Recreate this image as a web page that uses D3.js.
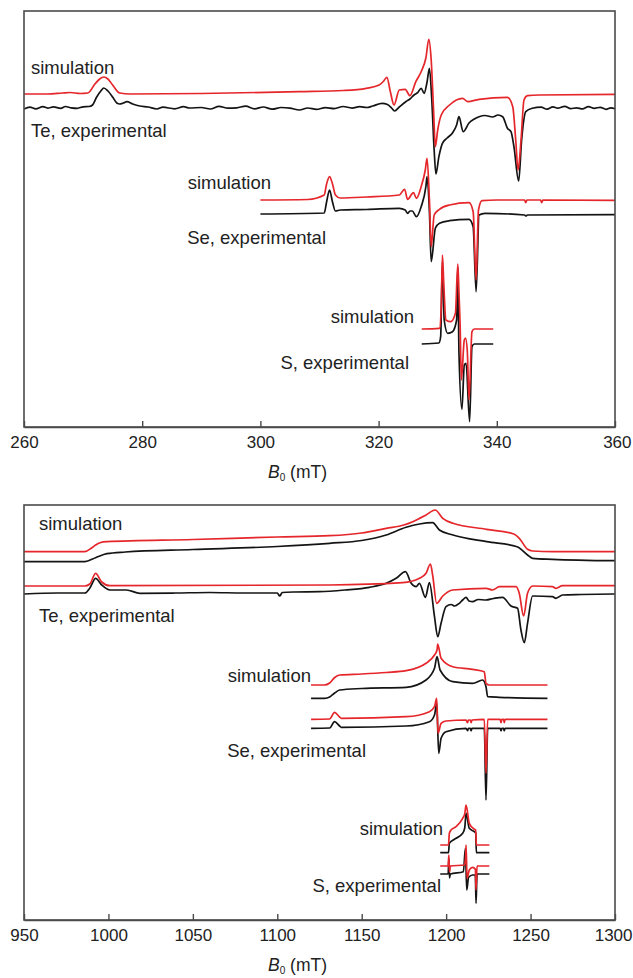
<!DOCTYPE html>
<html>
<head>
<meta charset="utf-8">
<script src="https://cdn.jsdelivr.net/npm/d3@7"></script>
<style>
  body { margin: 0; background: #fff; }
  svg text { font-family: "Liberation Sans", Arial, sans-serif; fill: #222; }
</style>
</head>
<body>
<script>
// ---- data: [B0 (mT), intensity (a.u., stacked)] ----

// upper panel, derivative spectra, 260-360 mT
var teSimTop = [[260,333],[264,333],[266.5,334],[267.8,334.5],[269.5,333.5],[270.8,334],[272,343],[272.8,348],[273.5,350],[274.2,348],[275,342],[276.2,334],[278,333],[290,333.5],[306.6,335.3],[314,336.5],[317.9,338.7],[320.1,342],[320.8,345.5],[321.4,349.7],[322.0,335],[322.6,322],[323.5,337],[324.5,337.7],[325.3,331.3],[326.3,345.3],[327.2,355.3],[328.0,369],[328.5,387.7],[328.9,367],[329.3,317],[329.6,280.3],[330.0,297],[330.6,312],[332.0,322],[334.2,328.7],[335.1,325.3],[337.0,327.7],[341.8,329.7],[342.7,320.3],[343.2,287],[343.6,257],[344.1,287],[344.6,327],[345.2,331.3],[347.2,332],[360,332.7]];
var teExpTop = [[260,318],[261,319.8],[262,318.2],[263.2,320.4],[264,318.9],[265,320.1],[266.2,318.6],[267,320.5],[268,319.2],[269,318.7],[270,320.2],[271,320.5],[271.6,322],[272.3,330],[273,336],[273.5,339],[274.2,336],[275,330],[275.7,324],[276.2,323],[276.8,324],[277.4,325.3],[278.4,323],[279.6,321],[281,320],[282.5,318],[283.5,319.8],[285.5,318.2],[287,320.3],[288,319],[290,319.5],[291.5,318],[293,320.6],[294.5,318.8],[296,319.2],[297.5,320.8],[299,318.2],[300.5,320],[302,317.8],[303.5,319.5],[305,318.9],[306.6,317],[308,319],[309.5,317.6],[311,319.4],[312.5,318.4],[314,320.5],[315.5,318.9],[316.8,320.3],[318,319.5],[319,321],[320.6,323.7],[321.5,322.5],[322.2,319],[322.7,316],[323.5,320],[324.6,325.3],[325.3,328],[326.0,332],[326.6,334.3],[327.2,338.7],[327.7,333.7],[328.2,345],[328.6,358.7],[329.0,327],[329.4,277],[329.7,253],[330.2,270.3],[330.8,283.7],[331.6,289],[332.5,294],[333.2,302],[333.6,310.3],[334.3,295.3],[335.3,304],[336.2,308],[337.0,310.3],[338,311.5],[339.3,310],[340.2,312],[341.0,310.3],[341.8,298.7],[342.4,295.3],[342.9,280.3],[343.7,246],[344.2,287],[344.9,315.3],[346.0,318.7],[347.5,319.8],[348.5,317.9],[349.5,320.2],[350.3,318.8],[351.5,320.6],[352.5,318.3],[353.5,319.2],[354.5,318.1],[355.5,320.3],[356.5,318.7],[357.5,319.7],[358.5,317.6],[359.3,319.2],[360,318.2]];
var seSimTop = [[300,227],[308,227.5],[310.8,232],[311.2,243],[311.7,250.3],[312.2,243],[312.7,232],[313.5,229],[318,230],[323.5,232],[324.4,237.7],[324.9,227.7],[325.9,234.3],[326.4,228.7],[327.2,240.3],[327.9,257],[328.2,268.7],[328.6,227],[328.9,180.3],[329.4,212],[330.3,217.7],[332.0,222],[335.3,224.3],[336.0,215.3],[336.5,147],[336.9,217],[337.5,226.3],[340,227],[344.7,227],[344.9,224.3],[345.1,227],[347.4,227],[347.6,224.3],[347.8,227],[360,226.7]];
var seExpTop = [[300,213],[310.8,214],[311.2,225],[311.7,237],[312.2,225],[312.7,216],[313.5,217],[318,217.5],[323.5,218.7],[324.5,217],[324.9,213.7],[325.3,216],[325.7,216],[326.4,210.3],[327.2,220.3],[328.0,240.3],[328.2,250.3],[328.6,215],[328.9,165.3],[329.6,198.7],[330.3,203.7],[332.0,206.3],[335.3,207.7],[336.0,200.3],[336.5,135.3],[337.0,212],[338,213.7],[344.7,212],[344.9,211],[345.2,212],[360,212.3]];
var sSimTop = [[327.3,98],[330.3,98.7],[330.6,120.3],[330.8,172],[331.0,147],[331.4,107],[332.2,105.3],[333.0,113.7],[333.4,163],[333.6,133.7],[333.8,100.3],[334.0,47],[334.5,87],[334.7,89],[335.0,77],[335.3,27],[335.8,95.3],[336.2,98],[339.4,98]];
var sExpTop = [[327.3,83],[330.2,84],[330.5,90.3],[330.8,165.3],[331.1,107],[331.7,93.7],[332.5,95.3],[333.2,107],[333.4,160.3],[333.6,73.7],[334.1,17.7],[334.5,62],[334.8,63.7],[335.4,5.3],[335.8,80.3],[336.2,83],[339.4,83]];

// lower panel, absorption and derivative spectra, 950-1300 mT
var teSimAbs = [[950,366.3],[986,366.3],[990,370],[992.4,373],[995,375.3],[999.1,376.3],[1050,378.5],[1100,381],[1131,382.3],[1150,385],[1164.5,389.7],[1175,393],[1180.2,396.3],[1188.1,403],[1193.5,408],[1198,399.7],[1204,394.7],[1224,388.7],[1240,384],[1243.3,379.7],[1248.2,368.7],[1251.2,367],[1263,366.3],[1300,366.3]];
var teExpAbs = [[950,356.3],[986,356.3],[992.4,360.3],[999.1,364.3],[1010,366],[1050,368.5],[1100,371.5],[1131,374.7],[1150,377.5],[1164.5,383],[1176.3,390.7],[1184.2,394],[1192,395.3],[1196,388],[1204,383],[1224,376.3],[1242,371.3],[1248.2,363],[1251.2,359.7],[1263,358.7],[1300,357.3]];
var teSimDer = [[950,332],[986,332],[989,334],[992.4,344.7],[996,336],[1000.9,332.3],[1131,333],[1174.3,335.3],[1184.2,339.7],[1188.1,344.7],[1190.7,354],[1192.0,343],[1194.4,314.7],[1198,322],[1203.9,328],[1223.6,329.7],[1227.5,328],[1231.5,331.3],[1241.4,331.3],[1243.3,324.7],[1245.9,302],[1248.2,324.7],[1251.2,332],[1263,331.3],[1265,329.7],[1268.9,332.3],[1300,332.3]];
var teExpDer = [[950,324],[970,325],[986,325],[989,330],[992.4,339.7],[996,333],[1000.9,328],[1010.7,328],[1018.6,324.7],[1040,325],[1060,325.5],[1080,325],[1100,325],[1101.4,322],[1103,325.5],[1110,326],[1125,326.3],[1140,328],[1154.6,330.7],[1164.5,334.7],[1170.4,339.7],[1175.9,346.3],[1179.3,334.7],[1182.2,331.3],[1184.2,334.7],[1187.7,320.7],[1190.1,335.3],[1193.1,301.3],[1195.0,281.3],[1197.0,294.7],[1199.9,311.3],[1203,313.5],[1205,312],[1207.8,314.7],[1209.8,318],[1211.8,320.7],[1213.5,317],[1215.7,316.3],[1219,318.5],[1223.6,318],[1228,319.5],[1233.4,320.7],[1238.4,312],[1242.3,309.7],[1244.3,288],[1246.3,275.3],[1248.2,294.7],[1251.2,322],[1263,321.3],[1265,319.7],[1268.9,323],[1280,323.5],[1300,324]];
var seSimAbs = [[1120,233],[1128,233],[1131,235],[1134,240.5],[1136.9,243],[1150,244],[1164.5,245.5],[1176.3,247.3],[1188.1,254.7],[1193.1,263],[1194.6,268],[1195.0,274],[1197.0,259.7],[1203.9,251.3],[1215.7,248.7],[1222.6,246.3],[1223.6,234.7],[1225.6,233],[1260,233]];
var seExpAbs = [[1120,219.7],[1128,219.7],[1131,221],[1134,225],[1136.9,228],[1150,229.5],[1176.3,230.7],[1188.1,238],[1193.1,249.7],[1194.6,261.3],[1196.4,248],[1203.9,236.3],[1215.7,234.7],[1221.6,238],[1223.6,231.3],[1224.6,221.3],[1231.5,220.7],[1260,219.7]];
var seSimDer = [[1120,198.7],[1131,199],[1133.9,205.7],[1136.9,201],[1137.9,199.7],[1176.3,201.3],[1190.1,206.3],[1193.1,211.3],[1194.4,219.7],[1195.2,184.7],[1197.0,194.7],[1199.9,197],[1211.8,198],[1212.7,195.3],[1213.2,198],[1214.3,198],[1214.8,195.3],[1215.3,198],[1222.6,198.7],[1223.6,144.7],[1224.6,198.7],[1232.0,198.7],[1232.5,195.3],[1233.0,198.7],[1234.0,198.7],[1234.4,195.3],[1234.9,198.7],[1260,198.7]];
var seExpDer = [[1120,189.7],[1131,190],[1133.9,196.3],[1136.9,192],[1137.9,190.7],[1176.3,192],[1190.1,196.3],[1193.1,203],[1194.4,214.7],[1195.6,164.7],[1197.0,179.7],[1199.9,186.3],[1211.8,189.7],[1212.7,187.3],[1213.2,189.7],[1214.3,189.7],[1214.8,187.3],[1215.3,189.7],[1222.6,189.7],[1223.6,118],[1224.6,189.7],[1232.0,189.7],[1232.5,187.3],[1233.0,189.7],[1234.0,189.7],[1234.4,187.3],[1234.9,189.7],[1260,189.7]];
var sSimAbs = [[1196.5,73],[1201.4,73],[1201.9,84.7],[1202.9,88],[1205.9,91.3],[1209.8,99.7],[1211.0,104],[1211.8,113],[1213.7,94.7],[1216.7,88.7],[1217.5,88],[1217.9,73],[1225.6,73]];
var sExpAbs = [[1196.5,65.3],[1201.4,65.3],[1201.9,74.7],[1204.9,78.7],[1209.8,84.7],[1211.0,90],[1211.8,104.7],[1213.7,89.7],[1216.7,86.3],[1217.5,85],[1217.9,65.3],[1225.6,65.3]];
var sSimDer = [[1196.5,52],[1201.2,52],[1201.6,63],[1202.0,46],[1202.5,52],[1210.8,53],[1211.5,60],[1211.8,73],[1212.4,39.7],[1213.7,48],[1215.7,50.7],[1217.3,48.7],[1217.7,28],[1218.3,52],[1225.6,52]];
var sExpDer = [[1196.5,44],[1201.2,44],[1201.6,59.7],[1202.0,40],[1202.5,44],[1210.2,46.3],[1211.4,69.7],[1212.2,28],[1213.3,40.7],[1215.7,43],[1217.3,43],[1217.7,14.7],[1218.3,44],[1225.6,44]];

var topTicks = [260, 280, 300, 320, 340, 360];
var bottomTicks = [950, 1000, 1050, 1100, 1150, 1200, 1250, 1300];

var topLabels = ["simulation", "Te, experimental", "simulation", "Se, experimental", "simulation", "S, experimental"];
var bottomLabels = ["simulation", "Te, experimental", "simulation", "Se, experimental", "simulation", "S, experimental"];

// ---- drawing ----
var width = 633, height = 978;
var red = "#e5262b", black = "#141414";

var svg = d3.select("body")
    .append("svg")
    .attr("width", width)
    .attr("height", height);

var panels = [
    {top: 11, bottom: 427, xDomain: [260, 360], yDomain: [0, 416], ticks: topTicks,
     pairs: [[teExpTop, teSimTop], [seExpTop, seSimTop], [sExpTop, sSimTop]],
     labels: topLabels,
     labelPos: [[31, 74, "start"], [31, 137, "start"], [271, 189, "end"], [326, 244, "end"], [414, 323, "end"], [409, 369, "end"]]},
    {top: 505, bottom: 920, xDomain: [950, 1300], yDomain: [-2, 413], ticks: bottomTicks,
     pairs: [[teExpAbs, teSimAbs], [teExpDer, teSimDer], [seExpAbs, seSimAbs], [seExpDer, seSimDer],
             [sExpAbs, sSimAbs], [sExpDer, sSimDer]],
     labels: bottomLabels,
     labelPos: [[39, 530, "start"], [39, 622, "start"], [311, 682, "end"], [366, 757, "end"], [443, 835, "end"], [441, 892, "end"]]}
];

var left = 24, right = 615;

panels.forEach(function (p) {
    var x = d3.scaleLinear().domain(p.xDomain).range([left, right]);
    var y = d3.scaleLinear().domain(p.yDomain).range([p.bottom, p.top]);

    var line = d3.line()
        .x(function (d) { return x(d[0]); })
        .y(function (d) { return y(d[1]); })
        .curve(d3.curveMonotoneX);

    var g = svg.append("g");

    // spectra: experimental first, simulation drawn over it
    p.pairs.forEach(function (pair) {
        g.append("path")
            .attr("d", line(pair[0]))
            .attr("fill", "none")
            .attr("stroke", black)
            .attr("stroke-width", 1.7)
            .attr("stroke-linejoin", "round");
        g.append("path")
            .attr("d", line(pair[1]))
            .attr("fill", "none")
            .attr("stroke", red)
            .attr("stroke-width", 1.7)
            .attr("stroke-linejoin", "round");
    });

    // frame
    g.append("rect")
        .attr("x", left)
        .attr("y", p.top)
        .attr("width", right - left)
        .attr("height", p.bottom - p.top)
        .attr("fill", "none")
        .attr("stroke", "#4a4a4a")
        .attr("stroke-width", 1.6);

    var axis = d3.axisBottom(x)
        .tickValues(p.ticks)
        .tickFormat(d3.format("d"))
        .tickSizeInner(-6)
        .tickSizeOuter(0)
        .tickPadding(9);

    var ax = g.append("g")
        .attr("transform", "translate(0," + p.bottom + ")")
        .call(axis);
    ax.select(".domain").attr("stroke", "#4a4a4a").attr("stroke-width", 1.6);
    ax.selectAll(".tick line").attr("stroke", "#4a4a4a").attr("stroke-width", 1.4);
    ax.selectAll(".tick text")
        .attr("fill", "#222")
        .style("font-size", "17px")
        .style("font-family", "'Liberation Sans', Arial, sans-serif");
    // keep the last label inside the page
    ax.selectAll(".tick text")
        .filter(function (d) { return d === p.ticks[p.ticks.length - 1]; })
        .attr("text-anchor", "end")
        .attr("dx", function (d) { return d >= 1000 ? 17 : 16; });

    // axis title
    var t = g.append("text")
        .attr("x", 268)
        .attr("y", p.bottom + 51)
        .style("font-size", "17.5px");
    t.append("tspan").style("font-style", "italic").text("B");
    t.append("tspan").attr("dy", 3).style("font-size", "10px").text("0");
    t.append("tspan").attr("dy", -3).text(" (mT)");

    // trace labels
    p.labels.forEach(function (s, i) {
        var pos = p.labelPos[i];
        g.append("text")
            .attr("x", pos[0])
            .attr("y", pos[1])
            .attr("text-anchor", pos[2])
            .style("font-size", "18.5px")
            .text(s);
    });
});
</script>
</body>
</html>
